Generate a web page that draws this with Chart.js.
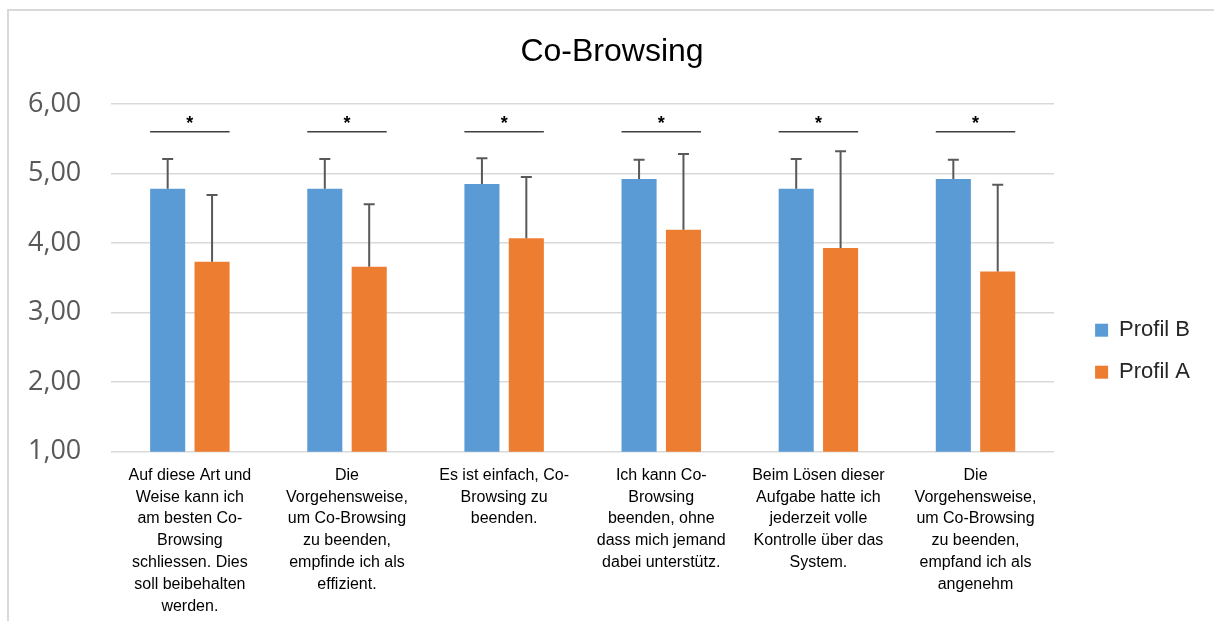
<!DOCTYPE html>
<html>
<head>
<meta charset="utf-8">
<script src="https://cdn.jsdelivr.net/npm/chart.js@4"></script>
<style>
  body { margin: 0; background: #fff; }
  #frame { position: absolute; left: 7px; top: 9px; width: 1400px; height: 800px; border: 2px solid #d9d9d9; }
  #wrap { position: absolute; left: 0; top: 0; width: 1214px; height: 621px; }
</style>
</head>
<body>
<div id="frame"></div>
<div id="wrap"><canvas id="chart" width="1214" height="621"></canvas></div>
<script>
// statements (x axis)
const labels = [
    ['Auf diese Art und', 'Weise kann ich', 'am besten Co-', 'Browsing', 'schliessen. Dies', 'soll beibehalten', 'werden.'],
    ['Die', 'Vorgehensweise,', 'um Co-Browsing', 'zu beenden,', 'empfinde ich als', 'effizient.'],
    ['Es ist einfach, Co-', 'Browsing zu', 'beenden.'],
    ['Ich kann Co-', 'Browsing', 'beenden, ohne', 'dass mich jemand', 'dabei unterstütz.'],
    ['Beim Lösen dieser', 'Aufgabe hatte ich', 'jederzeit volle', 'Kontrolle über das', 'System.'],
    ['Die', 'Vorgehensweise,', 'um Co-Browsing', 'zu beenden,', 'empfand ich als', 'angenehm']
];

const profilB = [4.78, 4.78, 4.85, 4.92, 4.78, 4.92];
const profilA = [3.73, 3.66, 4.07, 4.19, 3.93, 3.59];
// standard deviation (only drawn upwards)
const errB = [0.43, 0.43, 0.37, 0.28, 0.43, 0.28];
const errA = [0.96, 0.90, 0.88, 1.09, 1.39, 1.25];
// significance marks between the two profiles
const sig = ['*', '*', '*', '*', '*', '*'];
const sigLevel = 5.6;

const errorBars = {
    id: 'errorBars',
    afterDatasetsDraw(chart) {
        const ctx = chart.ctx;
        const y = chart.scales.y;
        const errs = [errB, errA];
        ctx.save();
        ctx.strokeStyle = '#595959';
        ctx.lineWidth = 2;
        chart.data.datasets.forEach((ds, d) => {
            chart.getDatasetMeta(d).data.forEach((bar, i) => {
                const top = y.getPixelForValue(ds.data[i] + errs[d][i]);
                ctx.beginPath();
                ctx.moveTo(bar.x, bar.y);
                ctx.lineTo(bar.x, top);
                ctx.moveTo(bar.x - 5.5, top);
                ctx.lineTo(bar.x + 5.5, top);
                ctx.stroke();
            });
        });
        ctx.restore();
    }
};

const sigMarks = {
    id: 'sigMarks',
    afterDatasetsDraw(chart) {
        const ctx = chart.ctx;
        const y = chart.scales.y;
        const b = chart.getDatasetMeta(0).data;
        const a = chart.getDatasetMeta(1).data;
        const ly = y.getPixelForValue(sigLevel);
        ctx.save();
        ctx.strokeStyle = '#404040';
        ctx.lineWidth = 1.5;
        ctx.fillStyle = '#000';
        ctx.font = 'bold 18px "Liberation Sans", Arial, sans-serif';
        ctx.textAlign = 'center';
        ctx.textBaseline = 'middle';
        sig.forEach((s, i) => {
            const left = b[i].x - b[i].width / 2;
            const right = a[i].x + a[i].width / 2;
            ctx.beginPath();
            ctx.moveTo(left, ly);
            ctx.lineTo(right, ly);
            ctx.stroke();
            ctx.fillText(s, (left + right) / 2, ly - 8);
        });
        ctx.restore();
    }
};

// title sits a little right of the canvas centre in the original
const titleShift = {
    id: 'titleShift',
    afterLayout(chart) {
        chart.titleBlock.left += 13;
        chart.titleBlock.right += 13;
    }
};

new Chart(document.getElementById('chart'), {
    type: 'bar',
    data: {
        labels: labels,
        datasets: [{
            label: 'Profil B',
            data: profilB,
            backgroundColor: '#5b9bd5',
            categoryPercentage: 0.565,
            barPercentage: 0.79
        }, {
            label: 'Profil A',
            data: profilA,
            backgroundColor: '#ed7d31',
            categoryPercentage: 0.565,
            barPercentage: 0.79
        }]
    },
    options: {
        responsive: false,
        animation: false,
        layout: { padding: { left: -2, right: 14, top: 23, bottom: -1 } },
        plugins: {
            title: {
                display: true,
                text: 'Co-Browsing',
                color: '#000',
                font: { family: '"Liberation Sans", Arial, sans-serif', size: 32, weight: 'normal' },
                padding: { top: 10, bottom: 32.6 }
            },
            legend: {
                position: 'right',
                title: { display: true, text: '', padding: { top: 43 } },
                labels: {
                    boxWidth: 13,
                    boxHeight: 13,
                    padding: 20,
                    color: '#262626',
                    font: { family: '"Liberation Sans", Arial, sans-serif', size: 22 }
                }
            },
            tooltip: { enabled: false }
        },
        scales: {
            x: {
                grid: { display: false },
                border: { display: false },
                ticks: {
                    autoSkip: false,
                    maxRotation: 0,
                    padding: 5,
                    color: '#000',
                    font: { family: '"Liberation Sans", Arial, sans-serif', size: 16, lineHeight: 1.36 }
                }
            },
            y: {
                min: 1,
                max: 6,
                border: { display: false },
                grid: { color: '#d9d9d9', lineWidth: 1.5, drawTicks: false },
                ticks: {
                    stepSize: 1,
                    padding: 30,
                    color: '#595959',
                    font: { family: '"Open Sans", sans-serif', size: 27 },
                    callback: v => v.toFixed(2).replace('.', ',')
                }
            },
            gap: {
                position: 'right',
                min: 0,
                max: 1,
                grid: { display: false },
                border: { display: false },
                ticks: { display: false },
                afterFit(s) { s.width = 21; }
            }
        }
    },
    plugins: [errorBars, sigMarks, titleShift]
});
</script>
</body>
</html>
